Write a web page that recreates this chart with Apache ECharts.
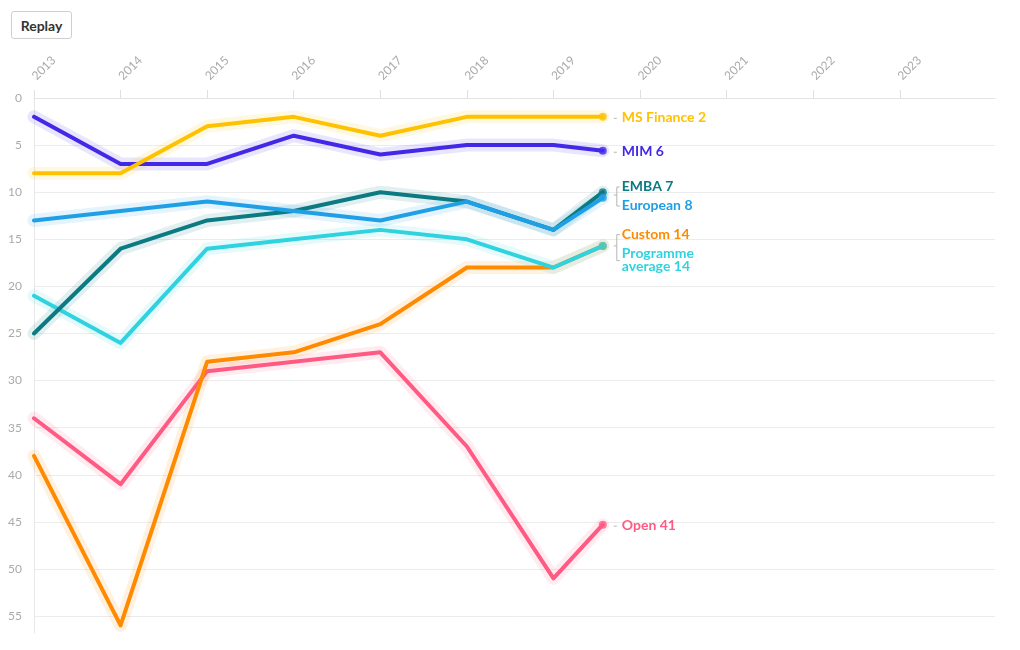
<!DOCTYPE html>
<html>
<head>
<meta charset="utf-8">
<script src="https://cdn.jsdelivr.net/npm/echarts@6/dist/echarts.min.js"></script>
<style>
  html, body { margin: 0; padding: 0; background: #fff; }
  #chart { position: absolute; left: 0; top: 0; width: 1020px; height: 650px; }
  #replay { position: absolute; left: 11px; top: 11px; width: 61px; height: 28px; z-index: 10;
    background: #fff; border: 1px solid #cfcfcf; border-radius: 3px; font: bold 14px Lato, "Open Sans", sans-serif;
    color: #333; padding: 0; cursor: pointer; }
</style>
</head>
<body>
<div id="chart"></div>
<button id="replay">Replay</button>
<script>
// ---- data (ranks) ----
const years = [2013, 2014, 2015, 2016, 2017, 2018, 2019];
const endX = 2019.57;   // where the animated lines currently stop

const names = ['Open', 'Custom', 'Programme average', 'EMBA', 'European', 'MIM', 'MS Finance'];
const labelTexts = ['Open 41', 'Custom 14', 'Programme\naverage 14', 'EMBA 7', 'European 8', 'MIM 6', 'MS Finance 2'];
const colors = ['#ff5a83', '#ff8a00', '#2fd3e0', '#0b7a82', '#1f9fe6', '#4328e7', '#fec200'];

const openRank     = [34, 41, 29, 28, 27, 37, 51];
const customRank   = [38, 56, 28, 27, 24, 18, 18];
const progAvgRank  = [21, 26, 16, 15, 14, 15, 18];
const embaRank     = [25, 16, 13, 12, 10, 11, 14];
const europeanRank = [13, 12, 11, 12, 13, 11, 14];
const mimRank      = [2, 7, 7, 4, 6, 5, 5];
const msFinRank    = [8, 8, 3, 2, 4, 2, 2];
const endValues    = [45.3, 15.7, 15.7, 10.0, 10.6, 5.6, 2];

const xTicks = [2013, 2014, 2015, 2016, 2017, 2018, 2019, 2020, 2021, 2022, 2023];
const yTicks = [0, 5, 10, 15, 20, 25, 30, 35, 40, 45, 50, 55];

const seriesValues = [openRank, customRank, progAvgRank, embaRank, europeanRank, mimRank, msFinRank];

function hexA(hex, a) {
  const n = parseInt(hex.slice(1), 16);
  return 'rgba(' + (n >> 16) + ',' + ((n >> 8) & 255) + ',' + (n & 255) + ',' + a + ')';
}

const seriesData = seriesValues.map((vals, i) =>
  years.map((y, k) => [y, vals[k]]).concat([[endX, endValues[i]]]));

const series = [];
// halos
seriesData.forEach((d, i) => {
  series.push({
    type: 'line', data: d, showSymbol: false, symbol: 'none', silent: true, z: 1,
    lineStyle: { width: 13, color: hexA(colors[i], 0.12), cap: 'round', join: 'round' },
    animation: false
  });
});
// lines
seriesData.forEach((d, i) => {
  series.push({
    name: names[i], type: 'line', data: d, showSymbol: false, symbol: 'none', z: 3,
    lineStyle: { width: 4, color: colors[i], cap: 'round', join: 'round' },
    animation: false
  });
});
// end dots
seriesData.forEach((d, i) => {
  series.push({
    type: 'scatter', data: [d[d.length - 1]], symbolSize: 8, z: 4,
    itemStyle: { color: colors[i] }, animation: false
  });
});

const chart = echarts.init(document.getElementById('chart'));
chart.setOption({
  animation: false,
  grid: { left: 34, right: 25, top: 98, bottom: 17, containLabel: false },
  xAxis: {
    type: 'value', position: 'top', offset: 7,
    min: xTicks[0], max: 2024.1, interval: 1,
    axisLine: { show: true, lineStyle: { color: '#e4e4e4', width: 1 } },
    axisTick: { show: true, length: 8, lineStyle: { color: '#e0e0e0' }, customValues: xTicks },
    axisLabel: {
      color: '#aaaaaa', fontSize: 12, fontFamily: 'Lato', rotate: 45, margin: 13,
      customValues: xTicks,
      formatter: v => (xTicks.indexOf(v) >= 0 ? String(v) : '')
    },
    splitLine: { show: false }
  },
  yAxis: {
    type: 'value', inverse: true, min: 0, max: 56.8, interval: 5,
    axisLine: { show: true, lineStyle: { color: '#e8e8e8' } },
    axisTick: { show: false },
    axisLabel: {
      color: '#aaaaaa', fontSize: 12, fontFamily: 'Lato', margin: 12,
      customValues: yTicks,
      formatter: v => (yTicks.indexOf(v) >= 0 ? String(v) : '')
    },
    splitLine: { show: true, showMaxLine: false, lineStyle: { color: '#ececec' } }
  },
  series: series
});

// ---- end labels laid out from the library's pixel positions ----
function layoutLabels() {
  const gap = 5;
  const shift = 1.5;
  const items = names.map((n, i) => {
    const p = chart.convertToPixel({ gridIndex: 0 }, [endX, endValues[i]]);
    const lines = labelTexts[i].split('\n').length;
    return { i: i, x: p[0], y: p[1], h: lines === 1 ? 14 : 27 };
  }).sort((a, b) => a.y - b.y);
  let groups = items.map(it => ({ items: [it] }));
  const gh = g => g.items.reduce((s, it) => s + it.h, 0) + gap * (g.items.length - 1);
  const gc = g => g.items.reduce((s, it) => s + it.y, 0) / g.items.length;
  // offset of the mean label centre from the block top
  const meanCentreOffset = g => {
    let t = 0, s = 0;
    g.items.forEach(it => { s += t + it.h / 2; t += it.h + gap; });
    return s / g.items.length;
  };
  const blockTop = g => gc(g) - meanCentreOffset(g);
  let merged = true;
  while (merged) {
    merged = false;
    for (let k = 0; k < groups.length - 1; k++) {
      const a = groups[k], b = groups[k + 1];
      if (blockTop(a) + gh(a) + gap > blockTop(b)) {
        groups.splice(k, 2, { items: a.items.concat(b.items) });
        merged = true;
        break;
      }
    }
  }
  const elements = [];
  const tx = items[0].x + 19;
  const lineColor = '#b5b5b5';
  groups.forEach(g => {
    const multi = g.items.length > 1;
    let top = blockTop(g) + shift;
    const firsts = [];
    g.items.forEach(it => {
      firsts.push(top + 7);
      elements.push({
        type: 'text', x: tx, y: top, silent: true,
        style: {
          text: labelTexts[it.i], fill: colors[it.i], font: 'bold 14px Lato, sans-serif',
          lineHeight: 13, verticalAlign: 'top', align: 'left'
        }
      });
      top += it.h + gap;
    });
    if (!multi) {
      const y = firsts[0];
      elements.push({ type: 'line', silent: true, shape: { x1: tx - 8, y1: y, x2: tx - 5, y2: y }, style: { stroke: lineColor, lineWidth: 1 } });
    } else {
      const vx = tx - 5;
      const last = g.items[g.items.length - 1];
      const y1 = firsts[0], y2 = firsts[firsts.length - 1] + (last.h > 14 ? 7 : 0);
      const ym = gc(g);
      elements.push({ type: 'line', silent: true, shape: { x1: vx, y1: y1, x2: vx, y2: y2 }, style: { stroke: lineColor, lineWidth: 1 } });
      elements.push({ type: 'line', silent: true, shape: { x1: vx, y1: y1, x2: vx + 3, y2: y1 }, style: { stroke: lineColor, lineWidth: 1 } });
      elements.push({ type: 'line', silent: true, shape: { x1: vx, y1: y2, x2: vx + 3, y2: y2 }, style: { stroke: lineColor, lineWidth: 1 } });
      elements.push({ type: 'line', silent: true, shape: { x1: vx - 3, y1: ym, x2: vx, y2: ym }, style: { stroke: lineColor, lineWidth: 1 } });
    }
  });
  chart.setOption({ graphic: { elements: elements } });
}
layoutLabels();
</script>
</body>
</html>
